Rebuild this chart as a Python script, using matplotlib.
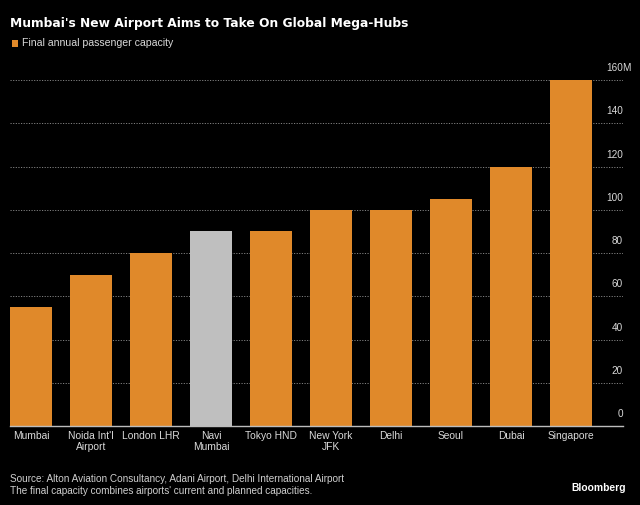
import matplotlib
matplotlib.use("Agg")
import matplotlib.pyplot as plt
import matplotlib.transforms as mtransforms
from matplotlib.patches import Rectangle

categories = ["Mumbai", "Noida Int'l\nAirport", "London LHR", "Navi\nMumbai", "Tokyo HND",
              "New York\nJFK", "Delhi", "Seoul", "Dubai", "Singapore"]
capacity = [55, 70, 80, 90, 90, 100, 100, 105, 120, 160]
highlight = "Navi\nMumbai"
yticks = [0, 20, 40, 60, 80, 100, 120, 140, 160]
ytick_labels = ["0", "20", "40", "60", "80", "100", "120", "140", "160"]
unit = "M"

ORANGE = "#E0892A"
GREY = "#BFBFBF"
BG = "#000000"
TXT = "#d9d9d9"
plt.rcParams["font.family"] = ["Liberation Sans", "DejaVu Sans"]

fig = plt.figure(figsize=(6.4, 5.05), dpi=100, facecolor=BG)
W, H = 640, 505
ax_left, ax_right, ax_bottom = 10, 623, 426
ymax = 165
ppu = (426 - 80) / 160.0
ax_top = ax_bottom - ymax * ppu
ax = fig.add_axes([ax_left / W, (H - ax_bottom) / H, (ax_right - ax_left) / W, (ax_bottom - ax_top) / H])
ax.set_facecolor(BG)

x = list(range(len(categories)))
colors = [GREY if c == highlight else ORANGE for c in categories]
ax.bar(x, capacity, width=0.7, color=colors, zorder=2)

ax.set_xlim(-0.35, -0.35 + (ax_right - ax_left) / 60.0)
ax.set_ylim(0, ymax)

ax.set_yticks(yticks)
ax.yaxis.grid(True, color="#808080", linestyle=(0, (1.2, 1.5)), linewidth=0.7, zorder=0)
ax.tick_params(axis="y", length=0, labelleft=False, labelright=False)
ax.set_xticks(x)
ax.set_xticklabels(categories, color=TXT, fontsize=7.4, linespacing=1.15)
ax.tick_params(axis="x", length=0, pad=3.5)
for s in ["top", "right", "left"]:
    ax.spines[s].set_visible(False)
ax.spines["bottom"].set_color("#bdbdbd")
ax.spines["bottom"].set_linewidth(1.0)
ax.spines["bottom"].set_zorder(3)

trans = mtransforms.blended_transform_factory(ax.transAxes, ax.transData)
off = trans + mtransforms.ScaledTranslation(0, 5 / 72, fig.dpi_scale_trans)
for v, lab in zip(yticks, ytick_labels):
    ax.text(1.0, v, lab, transform=off, ha="right", va="bottom", color=TXT, fontsize=7.2)
ax.text(0.999, yticks[-1], unit, transform=off, ha="left", va="bottom", color=TXT, fontsize=7.2)

fig.text(10 / W, 1 - 23 / H, "Mumbai's New Airport Aims to Take On Global Mega-Hubs",
         color="white", fontsize=8.85, fontweight="bold", va="center", ha="left",
         family=["DejaVu Sans"])
fig.patches.append(Rectangle((12 / W, 1 - 47 / H), 6 / W, 7 / H, transform=fig.transFigure,
                             facecolor=ORANGE, edgecolor="none"))
fig.text(22 / W, 1 - 43.5 / H, "Final annual passenger capacity", color=TXT,
         fontsize=7.6, va="center", ha="left")

fig.text(10 / W, 1 - 479 / H, "Source: Alton Aviation Consultancy, Adani Airport, Delhi International Airport",
         color="#cfcfcf", fontsize=7.2, va="center", ha="left")
fig.text(10 / W, 1 - 491 / H, "The final capacity combines airports' current and planned capacities.",
         color="#cfcfcf", fontsize=7.2, va="center", ha="left")
fig.text(626 / W, 1 - 488 / H, "Bloomberg", color="white", fontsize=7.4, fontweight="bold",
         va="center", ha="right")

fig.savefig("out.png", dpi=100, facecolor=BG)
